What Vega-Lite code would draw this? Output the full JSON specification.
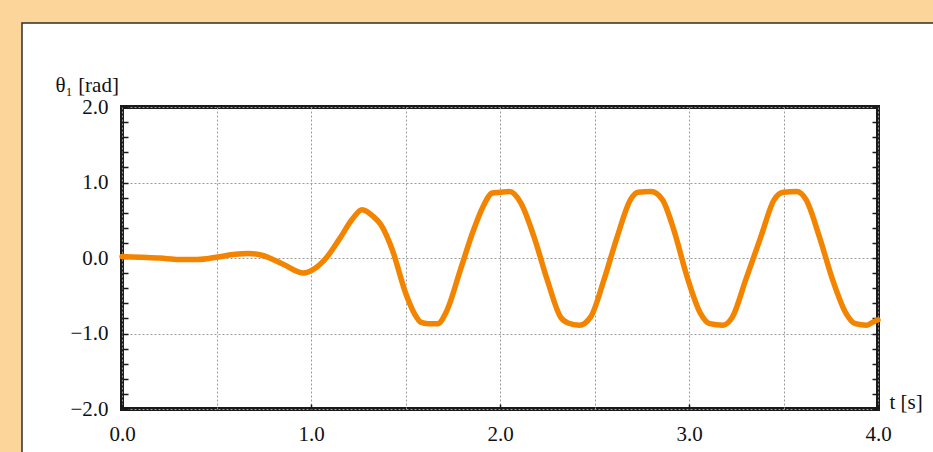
{
  "$schema": "https://vega.github.io/schema/vega-lite/v6.json",
  "width": 756,
  "height": 302,
  "autosize": {"type": "none"},
  "padding": {"left": 122, "top": 107, "right": 55, "bottom": 43},
  "background": "#ffffff",
  "config": {
    "view": {"stroke": "#1a1a1a", "strokeWidth": 4, "fill": "#ffffff"},
    "axis": {
      "labelFont": "Liberation Serif",
      "labelFontSize": 21,
      "labelColor": "#111111",
      "labelFlush": false,
      "titleFont": "Liberation Serif",
      "titleFontSize": 21,
      "titleFontWeight": "normal",
      "titleColor": "#111111",
      "domain": false,
      "tickColor": "#1a1a1a",
      "tickWidth": 1.5,
      "gridColor": "#9a9a9a",
      "gridDash": [2, 2],
      "gridWidth": 1
    }
  },
  "data": {
    "values": [
      {"t": 0.00, "theta": 0.02}, {"t": 0.10, "theta": 0.01}, {"t": 0.20, "theta": 0.00},
      {"t": 0.30, "theta": -0.02}, {"t": 0.40, "theta": -0.02}, {"t": 0.50, "theta": 0.01},
      {"t": 0.60, "theta": 0.05}, {"t": 0.67, "theta": 0.06}, {"t": 0.75, "theta": 0.03},
      {"t": 0.85, "theta": -0.08}, {"t": 0.96, "theta": -0.20}, {"t": 1.02, "theta": -0.14},
      {"t": 1.08, "theta": 0.00}, {"t": 1.15, "theta": 0.25}, {"t": 1.22, "theta": 0.52},
      {"t": 1.27, "theta": 0.64}, {"t": 1.33, "theta": 0.55}, {"t": 1.37, "theta": 0.44},
      {"t": 1.43, "theta": 0.11}, {"t": 1.50, "theta": -0.46}, {"t": 1.55, "theta": -0.75},
      {"t": 1.58, "theta": -0.85}, {"t": 1.62, "theta": -0.87}, {"t": 1.67, "theta": -0.87},
      {"t": 1.72, "theta": -0.69}, {"t": 1.79, "theta": -0.16}, {"t": 1.86, "theta": 0.37},
      {"t": 1.91, "theta": 0.68}, {"t": 1.96, "theta": 0.86}, {"t": 2.00, "theta": 0.87},
      {"t": 2.05, "theta": 0.88}, {"t": 2.11, "theta": 0.73}, {"t": 2.18, "theta": 0.28},
      {"t": 2.25, "theta": -0.29}, {"t": 2.32, "theta": -0.78}, {"t": 2.36, "theta": -0.86},
      {"t": 2.42, "theta": -0.89}, {"t": 2.48, "theta": -0.78}, {"t": 2.55, "theta": -0.29},
      {"t": 2.62, "theta": 0.28}, {"t": 2.69, "theta": 0.77}, {"t": 2.73, "theta": 0.87},
      {"t": 2.80, "theta": 0.88}, {"t": 2.86, "theta": 0.77}, {"t": 2.92, "theta": 0.37},
      {"t": 2.99, "theta": -0.25}, {"t": 3.06, "theta": -0.73}, {"t": 3.11, "theta": -0.87},
      {"t": 3.18, "theta": -0.89}, {"t": 3.23, "theta": -0.78}, {"t": 3.30, "theta": -0.29},
      {"t": 3.38, "theta": 0.28}, {"t": 3.45, "theta": 0.77}, {"t": 3.50, "theta": 0.87},
      {"t": 3.57, "theta": 0.88}, {"t": 3.62, "theta": 0.77}, {"t": 3.69, "theta": 0.28},
      {"t": 3.76, "theta": -0.29}, {"t": 3.83, "theta": -0.73}, {"t": 3.88, "theta": -0.87},
      {"t": 3.94, "theta": -0.89}, {"t": 3.98, "theta": -0.84}, {"t": 4.00, "theta": -0.82}
    ]
  },
  "resolve": {"scale": {"x": "shared", "y": "shared"}, "axis": {"y": "independent"}},
  "layer": [
    {
      "data": {"values": [{}]},
      "mark": {"type": "rect", "fill": "#fcd59a", "clip": false},
      "encoding": {
        "x": {"datum": -0.7, "type": "quantitative", "scale": {"domain": [0, 4], "nice": false, "zero": false}},
        "x2": {"datum": -0.5291},
        "y": {"datum": 3.7, "type": "quantitative", "axis": null, "scale": {"domain": [-2, 2], "nice": false, "zero": false}},
        "y2": {"datum": -3.3}
      }
    },
    {
      "data": {"values": [{}]},
      "mark": {"type": "rect", "fill": "#fcd59a", "clip": false},
      "encoding": {
        "x": {"datum": -0.7, "type": "quantitative"},
        "x2": {"datum": 4.7},
        "y": {"datum": 3.7, "type": "quantitative", "axis": null},
        "y2": {"datum": 3.1126}
      }
    },
    {
      "data": {"values": [{}]},
      "mark": {"type": "rect", "fill": null, "fillOpacity": 0, "stroke": "#2e2e2e", "strokeWidth": 1.5, "clip": false},
      "encoding": {
        "x": {"datum": -0.5291, "type": "quantitative"},
        "x2": {"datum": 4.8},
        "y": {
          "datum": 3.1126,
          "type": "quantitative",
          "axis": {
            "orient": "right",
            "values": [-2, -1.8, -1.6, -1.4, -1.2, -1, -0.8, -0.6, -0.4, -0.2, 0, 0.2, 0.4, 0.6, 0.8, 1, 1.2, 1.4, 1.6, 1.8, 2],
            "labels": false,
            "grid": false,
            "ticks": true,
            "tickSize": -6,
            "title": null
          }
        },
        "y2": {"datum": -3.3}
      }
    },
    {
      "mark": {"type": "line", "color": "#f38400", "strokeWidth": 5.5, "interpolate": "monotone", "clip": false, "strokeCap": "round", "strokeJoin": "round"},
      "encoding": {
        "x": {
          "field": "t",
          "type": "quantitative",
          "axis": {
            "values": [0, 0.5, 1, 1.5, 2, 2.5, 3, 3.5, 4],
            "labelExpr": "abs(datum.value % 1) < 0.001 ? format(datum.value, '.1f') : ''",
            "grid": true,
            "tickSize": -5,
            "tickOpacity": {"condition": {"test": "abs(datum.value % 1) < 0.001", "value": 1}, "value": 0},
            "labelPadding": 19,
            "title": "t [s]",
            "titleX": 767,
            "titleY": -1,
            "titleAlign": "left",
            "titleBaseline": "alphabetic",
            "titleAnchor": null
          }
        },
        "y": {
          "field": "theta",
          "type": "quantitative",
          "axis": {
            "orient": "left",
            "values": [-2, -1.8, -1.6, -1.4, -1.2, -1, -0.8, -0.6, -0.4, -0.2, 0, 0.2, 0.4, 0.6, 0.8, 1, 1.2, 1.4, 1.6, 1.8, 2],
            "labelExpr": "abs(datum.value % 1) < 0.001 ? format(datum.value, '.1f') : ''",
            "grid": true,
            "gridOpacity": {"condition": {"test": "abs(datum.value % 1) < 0.001", "value": 1}, "value": 0},
            "tickSize": -6,
            "labelPadding": 20,
            "title": "θ₁ [rad]",
            "titleAngle": 0,
            "titleX": -67,
            "titleY": -16,
            "titleAlign": "left",
            "titleBaseline": "alphabetic",
            "titleAnchor": null
          }
        }
      }
    }
  ]
}
